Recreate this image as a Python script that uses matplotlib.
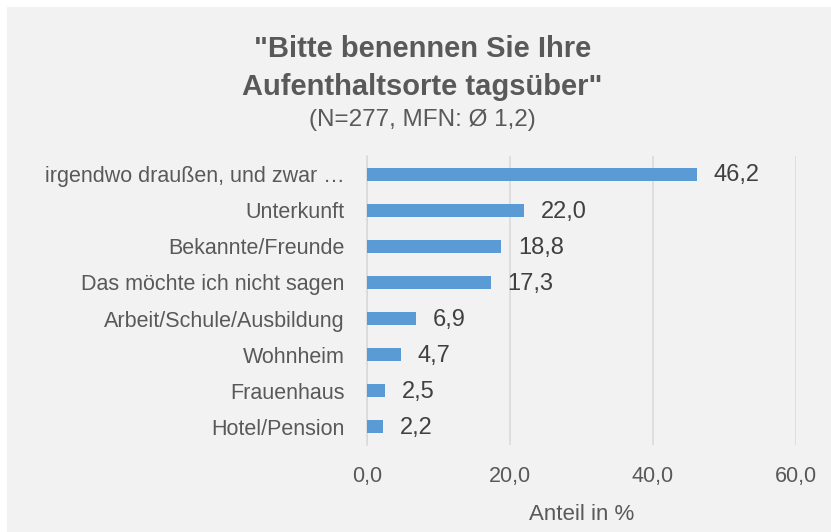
import matplotlib.pyplot as plt
from matplotlib.patches import Rectangle

# Daten
categories = ['irgendwo draußen, und zwar …', 'Unterkunft', 'Bekannte/Freunde',
              'Das möchte ich nicht sagen', 'Arbeit/Schule/Ausbildung', 'Wohnheim',
              'Frauenhaus', 'Hotel/Pension']
values = [46.2, 22.0, 18.8, 17.3, 6.9, 4.7, 2.5, 2.2]
xticks = [0, 20, 40, 60]

plt.rcParams['font.family'] = ['Liberation Sans', 'DejaVu Sans']

fig = plt.figure(figsize=(8.31, 5.32), dpi=100)
fig.patch.set_facecolor('white')
fig.patches.append(Rectangle((7 / 831, 0), 1 - 7 / 831, 1 - 7 / 532,
                             transform=fig.transFigure, facecolor='#f2f2f2',
                             edgecolor='none', zorder=-1))

ax = fig.add_axes([367 / 831, 1 - 445 / 532, (796 - 367) / 831, (445 - 156) / 532])
ax.set_facecolor('none')

y = list(range(len(categories)))
ax.barh(y, values, height=0.36, color='#5b9bd5', zorder=3)
for yi, v in zip(y, values):
    ax.annotate(f'{v:.1f}'.replace('.', ','), (v, yi), xytext=(12, -1),
                textcoords='offset points', va='center', ha='left',
                fontsize=17, color='#404040')

ax.set_xlim(0, 60)
ax.set_ylim(len(categories) - 0.5, -0.5)
ax.set_yticks(y)
ax.set_yticklabels(categories, fontsize=15.5, color='#595959')
ax.set_xticks(xticks)
ax.set_xticklabels([f'{t:.1f}'.replace('.', ',') for t in xticks], fontsize=15.5, color='#595959')
ax.tick_params(axis='both', length=0)
ax.tick_params(axis='y', pad=16)
ax.tick_params(axis='x', pad=15)
ax.grid(axis='x', color='#d9d9d9', linewidth=1.1, zorder=0)
for s in ['top', 'right', 'bottom']:
    ax.spines[s].set_visible(False)
ax.spines['left'].set_color('#d9d9d9')
ax.spines['left'].set_linewidth(1.1)
ax.set_xlabel('Anteil in %', fontsize=16, color='#595959', labelpad=12)

# Titel
fig.text(0.508, 1 - 57 / 532, '"Bitte benennen Sie Ihre', ha='center', va='baseline',
         fontsize=21, fontweight='bold', color='#595959')
fig.text(0.508, 1 - 95 / 532, 'Aufenthaltsorte tagsüber"', ha='center', va='baseline',
         fontsize=21, fontweight='bold', color='#595959')
fig.text(0.508, 1 - 126.5 / 532, '(N=277, MFN: Ø 1,2)', ha='center', va='baseline',
         fontsize=17.5, color='#595959')

fig.savefig('out.png', dpi=100, facecolor=fig.get_facecolor())
